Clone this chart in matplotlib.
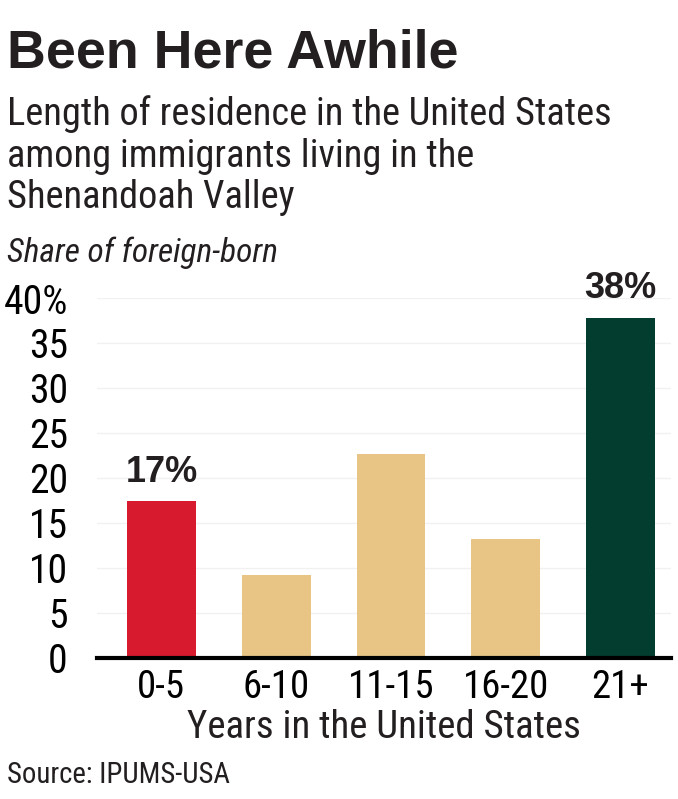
import matplotlib
matplotlib.use("Agg")
import matplotlib.pyplot as plt

# data
categories = ["0-5", "6-10", "11-15", "16-20", "21+"]
shares = [17.4, 9.2, 22.7, 13.2, 37.8]
bar_colors = ["#d71a2e", "#e8c585", "#e8c585", "#e8c585", "#023d2f"]
callouts = ["17%", "", "", "", "38%"]
y_ticks = [0, 5, 10, 15, 20, 25, 30, 35, 40]
y_tick_labels = ["0", "5", "10", "15", "20", "25", "30", "35", "40%"]
subtitle_lines = ["Length of residence in the United States",
                  "among immigrants living in the",
                  "Shenandoah Valley"]

narrow = ["Roboto Condensed", "Liberation Sans", "DejaVu Sans"]
bold = ["Liberation Sans", "DejaVu Sans"]
ink = "#231f20"

fig = plt.figure(figsize=(6.78, 7.99), dpi=100)
ax = fig.add_axes([97 / 678, (799 - 657.7) / 799, (671 - 97) / 678, (657.7 - 298) / 799])

x = range(len(categories))
ax.bar(x, shares, width=0.6, color=bar_colors, zorder=3)

# labels on the first and last bars
for i, (v, lab) in enumerate(zip(shares, callouts)):
    if lab:
        ax.text(i, v + 1.3, lab, ha="center", va="bottom", fontsize=26,
                fontweight="bold", family=bold, color=ink, clip_on=False)

ax.set_xlim(-0.561, 4.44)
ax.set_ylim(0, 40)
ax.set_yticks(y_ticks)
ax.set_yticklabels(y_tick_labels, family=narrow, fontsize=28.5, color="black")
ax.set_xticks(list(x))
ax.set_xticklabels(categories, family=narrow, fontsize=28, color="black")
ax.tick_params(axis="y", length=0, pad=21)
ax.tick_params(axis="x", length=0, pad=8)
ax.set_xlabel("Years in the United States", family=narrow, fontsize=28,
              color=ink, labelpad=2)

ax.grid(axis="y", color="#f1f1f1", linewidth=1, zorder=0)
for side in ["top", "right", "left"]:
    ax.spines[side].set_visible(False)
ax.spines["bottom"].set_linewidth(3)
ax.spines["bottom"].set_color("black")
ax.spines["bottom"].set_zorder(4)

# headline block
fig.text(7 / 678, 1 - 68 / 799, "Been Here Awhile", fontsize=38.7,
         fontweight="bold", family=bold, color=ink, va="baseline")
for line, base in zip(subtitle_lines, [125, 167, 208]):
    fig.text(7 / 678, 1 - base / 799, line, fontsize=27.6, family=narrow,
             color=ink, va="baseline")
fig.text(7 / 678, 1 - 262 / 799, "Share of foreign-born", fontsize=24,
         style="italic", family=narrow, color=ink, va="baseline")
fig.text(7 / 678, 1 - 783 / 799, "Source: IPUMS-USA", fontsize=20.7,
         family=narrow, color=ink, va="baseline")

fig.savefig("out.png", dpi=100)
